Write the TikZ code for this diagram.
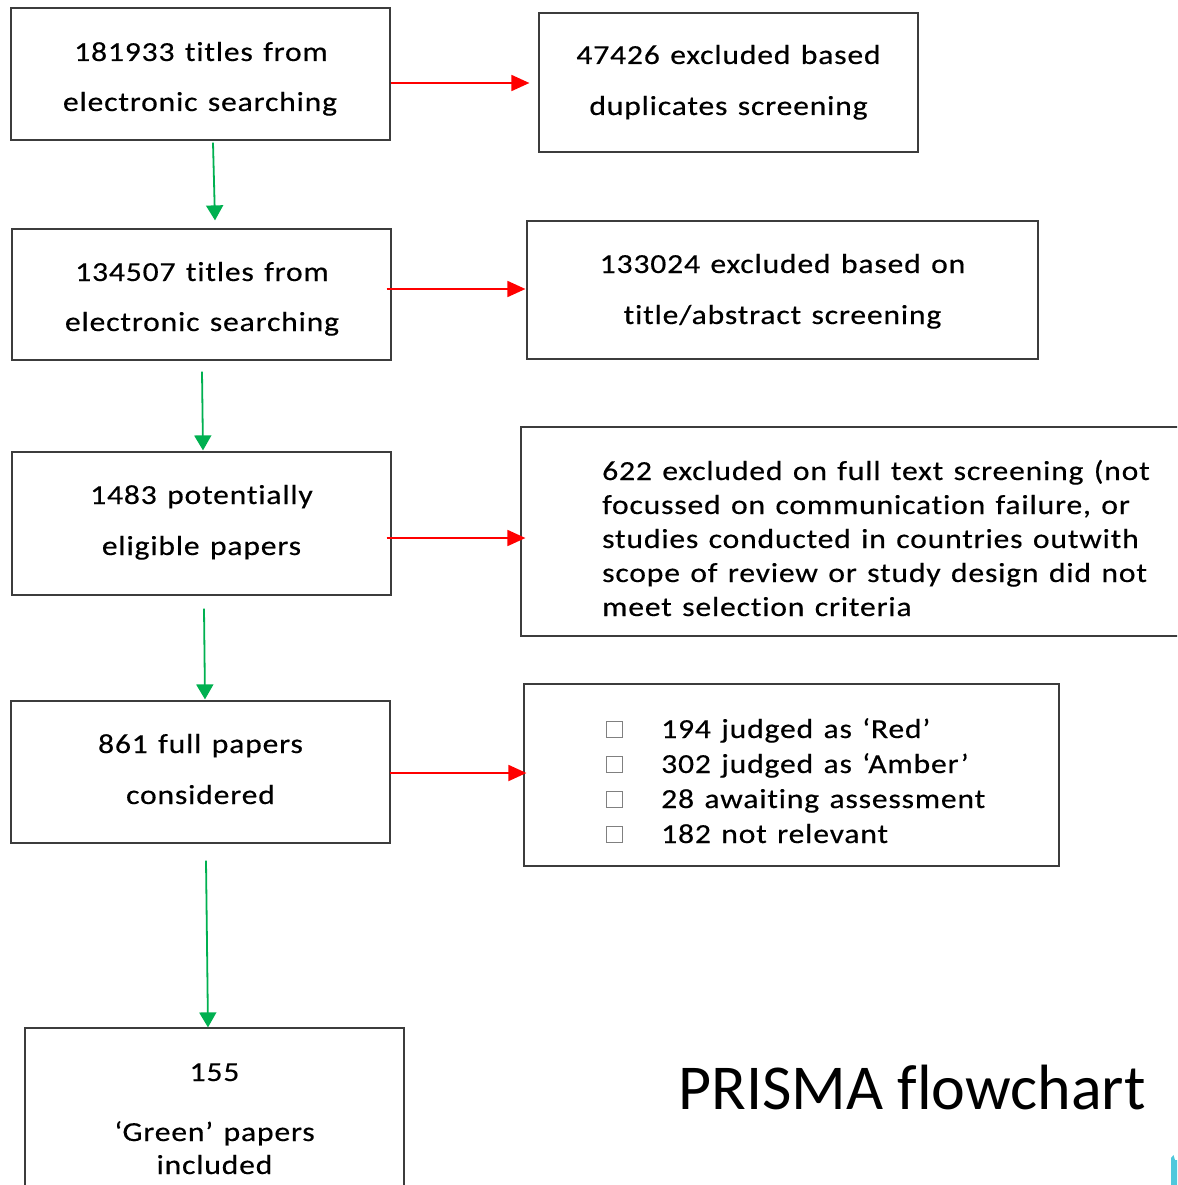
\documentclass[tikz,border=0pt]{standalone}
\usepackage{fontspec}
\setmainfont{Carlito}
\newfontfamily\boxfont{Carlito}[FakeStretch=1.15,LetterSpace=3,WordSpace=1.3,Ligatures=NoCommon,FakeBold=0.4]
\newfontfamily\titlefont{Carlito}[Ligatures=NoCommon]
\usetikzlibrary{arrows.meta,calc}
\definecolor{flowgreen}{HTML}{00B050}
\definecolor{flowred}{HTML}{FF0000}
\definecolor{edgegray}{HTML}{3C3C3C}
\definecolor{tickgray}{HTML}{808080}
\definecolor{markcyan}{HTML}{4FC8DC}
\begin{document}
\begin{tikzpicture}[x=1pt,y=-1pt,
  stagebox/.style={draw=edgegray,line width=1.2pt,inner sep=0pt,fill=none},
  lbl/.style={font=\boxfont\fontsize{27.5}{30}\selectfont,inner sep=0pt,anchor=base},
  lbll/.style={lbl,anchor=base west},
  tickbox/.style={draw=tickgray,line width=0.8pt,minimum size=16pt,inner sep=0pt,anchor=south west},
  redarrow/.style={draw=flowred,line width=1.8pt,-{Triangle[length=18pt,width=16pt]}},
  greenarrow/.style={draw=flowgreen,line width=1.8pt,-{Triangle[length=15pt,width=17pt]}}]
\clip (0,0) rectangle (1177,1185);
\useasboundingbox (0,0) rectangle (1177,1185);

% stage boxes (left column)
\node[stagebox,minimum width=379pt,minimum height=132pt] (b1) at (200.5,74) {};
\node[stagebox,minimum width=379pt,minimum height=131pt] (b2) at (201.5,294.5) {};
\node[stagebox,minimum width=379pt,minimum height=143pt] (b3) at (201.5,523.5) {};
\node[stagebox,minimum width=379pt,minimum height=142pt] (b4) at (200.5,772) {};
\node[stagebox,minimum width=379pt,minimum height=192pt] (b5) at (214.5,1124) {};

% exclusion boxes (right column)
\node[stagebox,minimum width=379pt,minimum height=139pt] (e1) at (728.5,82.5) {};
\node[stagebox,minimum width=511pt,minimum height=138pt] (e2) at (782.5,290) {};
\node[stagebox,minimum width=679pt,minimum height=209pt] (e3) at (860.5,531.5) {};
\node[stagebox,minimum width=535pt,minimum height=182pt] (e4) at (791.5,775) {};

% labels
\node[lbl] (b1a) at (201,61) {181933 titles from};
\node[lbl] (b1b) at (200,111) {electronic searching};
\node[lbl] (e1a) at (728.5,64) {47426 excluded based};
\node[lbl] (e1b) at (728.5,115) {duplicates screening};
\node[lbl] (b2a) at (202,281) {134507 titles from};
\node[lbl] (b2b) at (202,331) {electronic searching};
\node[lbl] (e2a) at (782.5,273) {133024 excluded based on};
\node[lbl] (e2b) at (782.5,324) {title/abstract screening};
\node[lbl] (b3a) at (201.5,504) {1483 potentially};
\node[lbl] (b3b) at (201.5,555) {eligible papers};
\node[lbll] (e3a) at (602,480) {622 excluded on full text screening (not};
\node[lbll] (e3b) at (602,514) {focussed on communication failure, or};
\node[lbll] (e3c) at (602,548) {studies conducted in countries outwith};
\node[lbll] (e3d) at (602,582) {scope of review or study design did not};
\node[lbll] (e3e) at (602,616) {meet selection criteria};
\node[lbl] (b4a) at (200.5,753) {861 full papers};
\node[lbl] (b4b) at (200.5,804) {considered};
\node[tickbox] (t1) at (606,738) {};
\node[tickbox] (t2) at (606,773) {};
\node[tickbox] (t3) at (606,808) {};
\node[tickbox] (t4) at (606,843) {};
\node[lbll] (e4a) at (661,738) {194 judged as ‘Red’};
\node[lbll] (e4b) at (661,773) {302 judged as ‘Amber’};
\node[lbll] (e4c) at (661,808) {28 awaiting assessment};
\node[lbll] (e4d) at (661,843) {182 not relevant};
\node[lbl] (b5a) at (214.5,1081) {155};
\node[lbl] (b5b) at (214.5,1141) {‘Green’ papers};
\node[lbl] (b5c) at (214.5,1174) {included};

% title
\node[font=\titlefont\fontsize{64}{70}\selectfont,inner sep=0pt,anchor=base west] (title) at (678,1109) {PRISMA flowchart};

% exclusion arrows
\coordinate (r1) at ($(e1.west)+(-9,0.5)$);
\coordinate (r2) at ($(e2.west)+(-1,-1)$);
\coordinate (r3) at ($(e3.west)+(5,6.5)$);
\coordinate (r4) at ($(e4.west)+(3,-2)$);
\draw[redarrow] (b1.east |- r1) -- (r1);
\draw[redarrow] ([xshift=-5pt]b2.east |- r2) -- (r2);
\draw[redarrow] ([xshift=-5pt]b3.east |- r3) -- (r3);
\draw[redarrow] ([xshift=-1pt]b4.east |- r4) -- (r4);

% progression arrows
\draw[greenarrow] ($(b1.south)+(12.5,2)$) -- ($(b2.north)+(13.5,-8)$);
\draw[greenarrow] ($(b2.south)+(0.5,11)$) -- ($(b3.north)+(1.5,-1)$);
\draw[greenarrow] ($(b3.south)+(2.5,13)$) -- ($(b4.north)+(4.5,-1)$);
\draw[greenarrow] ($(b4.south)+(5.5,17)$) -- ($(b5.north)+(-6.5,0)$);

% corner fragment
\fill[markcyan] (1171,1185) -- (1171,1158) -- (1173.5,1155) -- (1175,1160) -- (1177,1160) -- (1177,1185) -- cycle;
\end{tikzpicture}
\end{document}
